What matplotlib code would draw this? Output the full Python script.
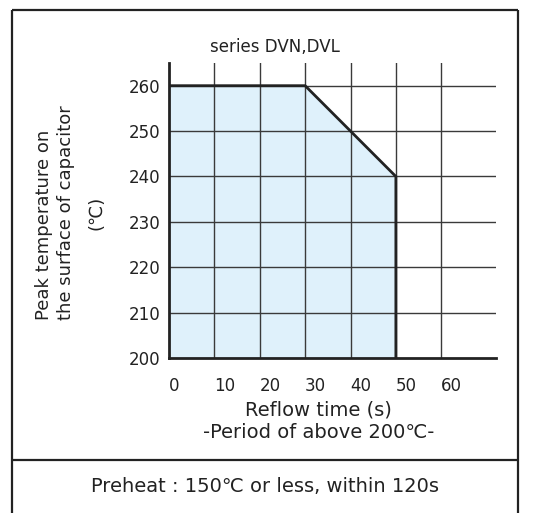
import matplotlib
matplotlib.use("Agg")
import matplotlib.pyplot as plt
from matplotlib.lines import Line2D

plt.rcParams['font.family'] = ['DejaVu Sans']

# Data
boundary_time = [0, 0, 30, 50, 50]
boundary_temp = [200, 260, 260, 240, 200]
x_ticks = [0, 10, 20, 30, 40, 50, 60]
y_ticks = [200, 210, 220, 230, 240, 250, 260]
title = "series DVN,DVL"
x_label1 = "Reflow time (s)"
x_label2 = "-Period of above 200℃-"
y_label_lines = ["Peak temperature on", "the surface of capacitor", "(℃)"]
note = "Preheat : 150℃ or less, within 120s"

W, H = 546, 513
fig = plt.figure(figsize=(W / 100, H / 100), dpi=100)

def fx(px):
    return px / W

def fy(py):
    return 1 - py / H

TXT = "#222222"

# outer frame
frame_kw = dict(color="#222222", lw=1.6, transform=fig.transFigure, solid_capstyle='butt')
fig.add_artist(Line2D([fx(12), fx(12)], [fy(10), fy(520)], **frame_kw))
fig.add_artist(Line2D([fx(518), fx(518)], [fy(10), fy(520)], **frame_kw))
fig.add_artist(Line2D([fx(12), fx(518)], [fy(10), fy(10)], **frame_kw))
fig.add_artist(Line2D([fx(12), fx(518)], [fy(460), fy(460)], **frame_kw))

left, right, top, bottom = 169, 495.7, 63, 358
ax = fig.add_axes([fx(left), fy(bottom), fx(right - left), (bottom - top) / H])
ax.set_xlim(0, 72)
ax.set_ylim(200, 265)

ax.fill(boundary_time, boundary_temp, color="#dff1fb", zorder=1, lw=0)

for x in x_ticks[1:]:
    ax.plot([x, x], [200, 265], color="#3a3a3a", lw=1.0, zorder=2)
for y in y_ticks[1:]:
    ax.plot([0, 72], [y, y], color="#3a3a3a", lw=1.0, zorder=2)

ax.plot(boundary_time[1:], boundary_temp[1:], color="#222222", lw=2.0, zorder=3,
        solid_joinstyle='miter')

for s in ['top', 'right']:
    ax.spines[s].set_visible(False)
for s in ['left', 'bottom']:
    ax.spines[s].set_linewidth(2.0)
    ax.spines[s].set_color("#222222")
    ax.spines[s].set_zorder(4)

ax.set_xticks(x_ticks)
ax.set_yticks(y_ticks)
ax.tick_params(length=0, labelsize=12, colors=TXT)
ax.tick_params(axis='x', pad=14)
ax.tick_params(axis='y', pad=6)
for lab in ax.get_xticklabels():
    lab.set_ha('left')

fig.text(fx(275), fy(47), title, ha='center', va='center', fontsize=12, color=TXT)
fig.text(fx(318), fy(410), x_label1, ha='center', va='center', fontsize=14, color=TXT)
fig.text(fx(319), fy(433), x_label2, ha='center', va='center', fontsize=14, color=TXT)
fig.text(fx(44), fy(320), y_label_lines[0], ha='center', va='bottom', rotation=90,
         fontsize=13, color=TXT)
fig.text(fx(66), fy(320), y_label_lines[1], ha='center', va='bottom', rotation=90,
         fontsize=13, color=TXT)
fig.text(fx(96), fy(213), y_label_lines[2], ha='center', va='center', rotation=90,
         fontsize=13, color=TXT)
fig.text(fx(265), fy(487), note, ha='center', va='center', fontsize=14, color=TXT)

fig.savefig("out.png", dpi=100)
